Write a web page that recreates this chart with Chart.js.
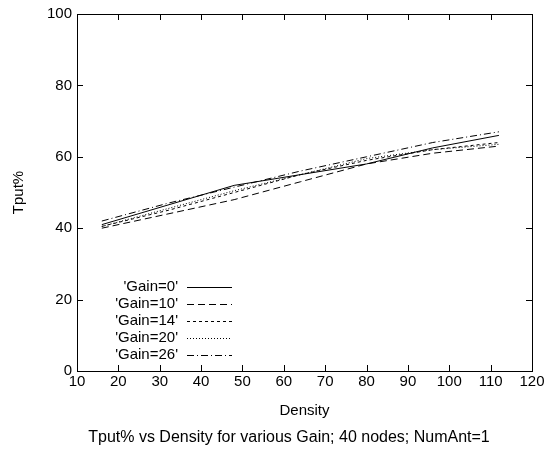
<!DOCTYPE html>
<html>
<head>
<meta charset="utf-8">
<script src="https://cdn.jsdelivr.net/npm/chart.js@4"></script>
<style>
html,body{margin:0;padding:0;background:#fff;}
#wrap{width:550px;height:464px;}
</style>
</head>
<body>
<div id="wrap"><canvas id="c" width="550" height="464"></canvas></div>
<script>
const density = [16, 32, 48, 64, 80, 96, 112];
const gain0  = [41, 46.5, 52, 55, 58, 62.5, 66];
const gain10 = [40, 44, 48, 53, 58, 61, 63];
const gain14 = [40.5, 45, 50, 55, 59, 62, 64];
const gain20 = [40.5, 45.5, 50.5, 55, 59.5, 62, 63.5];
const gain26 = [42, 47, 51.5, 56, 60, 64, 67];
const seriesNames = ["'Gain=0'", "'Gain=10'", "'Gain=14'", "'Gain=20'", "'Gain=26'"];
const xTicks = [10,20,30,40,50,60,70,80,90,100,110,120];
const yTicks = [0,20,40,60,80,100];
const chartTitle = 'Tput% vs Density for various Gain; 40 nodes; NumAnt=1';
const xTitle = 'Density';

const dashes = [[], [7,4], [3,3], [1,2], [7,3,1,3]];
const allSeries = [gain0, gain10, gain14, gain20, gain26];

const FONT = "'Liberation Sans', Arial, sans-serif";

const datasets = allSeries.map((s, i) => ({
  label: seriesNames[i],
  data: density.map((d, k) => ({x: d, y: s[k]})),
  borderColor: '#000',
  borderWidth: 1,
  borderDash: dashes[i],
  pointRadius: 0,
  fill: false,
  tension: 0
}));

const frame = {
  id: 'frame',
  afterDatasetsDraw(chart) {
    const {ctx, chartArea: a, scales} = chart;
    ctx.save();
    ctx.strokeStyle = '#000';
    ctx.lineWidth = 1;
    ctx.setLineDash([]);
    ctx.strokeRect(Math.round(a.left)+0.5, Math.round(a.top)+0.5, Math.round(a.right-a.left), Math.round(a.bottom-a.top));
    const tl = 6;
    ctx.beginPath();
    scales.x.ticks.forEach((t, i) => {
      const x = Math.round(scales.x.getPixelForTick(i)) + 0.5;
      ctx.moveTo(x, a.bottom); ctx.lineTo(x, a.bottom - tl);
      ctx.moveTo(x, a.top); ctx.lineTo(x, a.top + tl);
    });
    scales.y.ticks.forEach((t, i) => {
      const y = Math.round(scales.y.getPixelForTick(i)) + 0.5;
      ctx.moveTo(a.left, y); ctx.lineTo(a.left + tl, y);
      ctx.moveTo(a.right, y); ctx.lineTo(a.right - tl, y);
    });
    ctx.stroke();
    // legend
    ctx.font = '15px ' + FONT;
    ctx.fillStyle = '#000';
    ctx.textAlign = 'right';
    ctx.textBaseline = 'middle';
    const textRight = 178, lx0 = 187, lx1 = 232, y0 = 287, dy = 17;
    chart.data.datasets.forEach((ds, i) => {
      const y = y0 + i * dy;
      ctx.fillText(ds.label, textRight, y);
      ctx.beginPath();
      ctx.setLineDash(ds.borderDash);
      ctx.moveTo(lx0, Math.round(y) + 0.5);
      ctx.lineTo(lx1, Math.round(y) + 0.5);
      ctx.stroke();
    });
    ctx.setLineDash([]);
    ctx.textAlign = 'center';
    // x axis title
    ctx.font = '15px ' + FONT;
    ctx.fillText(xTitle, (a.left + a.right) / 2, 411);
    // bottom title
    ctx.font = '16px ' + FONT;
    ctx.fillText(chartTitle, 289, 438);
    ctx.restore();
  }
};

new Chart(document.getElementById('c'), {
  type: 'line',
  data: { datasets },
  options: {
    responsive: false,
    animation: false,
    devicePixelRatio: 1,
    layout: { padding: { left: 0, right: 18, top: 12, bottom: 0 } },
    plugins: {
      legend: { display: false },
      tooltip: { enabled: false },
      title: { display: false }
    },
    scales: {
      x: {
        type: 'linear',
        min: 10, max: 120,
        afterBuildTicks(scale) { scale.ticks = xTicks.map(v => ({value: v})); },
        afterFit(scale) { scale.height = 93; },
        ticks: { color: '#000', font: { family: FONT, size: 15 }, padding: 2, maxRotation: 0, autoSkip: false },
        grid: { display: true, drawOnChartArea: false, drawTicks: false, color: 'rgba(0,0,0,0)' },
        border: { display: false },
        title: { display: false }
      },
      y: {
        type: 'linear',
        min: 0, max: 100,
        afterBuildTicks(scale) { scale.ticks = yTicks.map(v => ({value: v})); },
        afterFit(scale) { scale.width = 77; },
        ticks: { color: '#000', font: { family: FONT, size: 15 }, padding: 5, autoSkip: false },
        grid: { display: true, drawOnChartArea: false, drawTicks: false, color: 'rgba(0,0,0,0)' },
        border: { display: false },
        title: { display: true, text: 'Tput%', color: '#000', font: { family: FONT, size: 15 }, padding: { top: 10, bottom: 0 } }
      }
    }
  },
  plugins: [frame]
});
</script>
</body>
</html>
